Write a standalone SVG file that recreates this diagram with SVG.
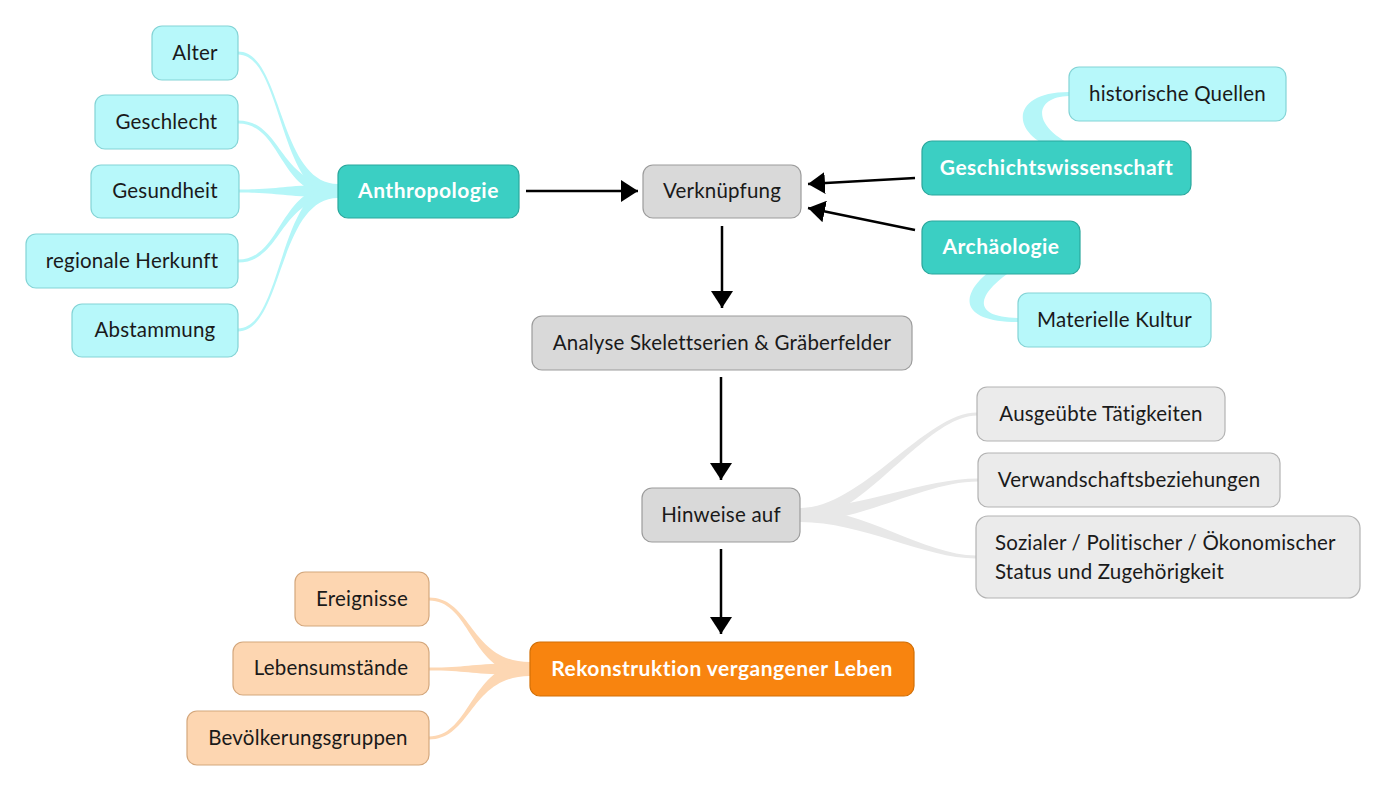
<svg xmlns="http://www.w3.org/2000/svg" width="1387" height="792" viewBox="0 0 1387 792">
<defs>
<style>
text{font-family:Lato,"Open Sans","Liberation Sans",sans-serif;font-size:20.5px;letter-spacing:0.2px;fill:#1a1a1a;text-anchor:middle}
.main text{font-weight:bold;font-size:21px;letter-spacing:0.5px;fill:#ffffff}
.cy{fill:#b7f8fa;stroke:#84d4d6;stroke-width:1.2}
.tl{fill:#3bcfc3;stroke:#2aa89d;stroke-width:1.2}
.gr{fill:#d9d9d9;stroke:#9c9c9c;stroke-width:1.2}
.lg{fill:#ebebeb;stroke:#b3b3b3;stroke-width:1.2}
.po{fill:#fdd6b1;stroke:#d4a77c;stroke-width:1.2}
.or{fill:#f8840f;stroke:#d26f06;stroke-width:1.2}
.bc{fill:#b5f6f8}
.bg{fill:#e8e8e8}
.bo{fill:#fdd7b3}
.arr{stroke:#000;stroke-width:2.5;fill:none;marker-end:url(#ah)}
</style>
<marker id="ah" markerUnits="userSpaceOnUse" markerWidth="18" markerHeight="22" viewBox="0 0 18 22" refX="17" refY="11" orient="auto">
<path d="M0,0 L17,11 L0,22 Z" fill="#000"/>
</marker>
</defs>
<rect width="1387" height="792" fill="#ffffff"/>

<g id="branches">
<path class="bc" d="M238,51.5 C283,51.5 278,184 338,184 L338,198 C278,198 283,54.5 238,54.5 Z"/>
<path class="bc" d="M238,120.5 C283,120.5 278,185 338,185 L338,197 C278,197 283,123.5 238,123.5 Z"/>
<path class="bc" d="M239,189.5 C283,189.5 278,185 338,185 L338,197 C278,197 283,192.5 239,192.5 Z"/>
<path class="bc" d="M238,259.5 C283,259.5 278,185 338,185 L338,197 C278,197 283,262.5 238,262.5 Z"/>
<path class="bc" d="M238,328.5 C283,328.5 278,184 338,184 L338,198 C278,198 283,331.5 238,331.5 Z"/>
<path class="bc" d="M1069,92 C1005,92 1012,140 1062,150 L1086,150 C1034,134 1028,97 1069,96 Z"/>
<path class="bc" d="M994,268 C960,292 956,322 1018,322 L1018,318 C968,317 978,292 1016,268 Z"/>
<path class="bg" d="M800,508 C862,508 925,412.5 977,412.5 L977,415.5 C925,415.5 862,522 800,522 Z"/>
<path class="bg" d="M800,508 C862,508 925,478.5 978,478.5 L978,481.5 C925,481.5 862,522 800,522 Z"/>
<path class="bg" d="M800,508 C862,508 925,555.5 976,555.5 L976,558.5 C925,558.5 862,522 800,522 Z"/>
<path class="bo" d="M429,597.5 C472,597.5 470,662 530,662 L530,676 C470,676 472,600.5 429,600.5 Z"/>
<path class="bo" d="M429,667.5 C472,667.5 470,663 530,663 L530,675 C470,675 472,670.5 429,670.5 Z"/>
<path class="bo" d="M429,736.5 C472,736.5 470,662 530,662 L530,676 C470,676 472,739.5 429,739.5 Z"/>
</g>

<g id="connectors">
<line class="arr" x1="526" y1="191" x2="638" y2="191"/>
<line class="arr" x1="915" y1="178" x2="808" y2="184"/>
<line class="arr" x1="915" y1="230" x2="808" y2="208"/>
<line class="arr" x1="722" y1="226" x2="722" y2="308"/>
<line class="arr" x1="721" y1="377" x2="721" y2="480"/>
<line class="arr" x1="721" y1="549" x2="721" y2="634"/>
</g>

<g id="n-alter"><rect class="cy" x="152" y="26" width="86" height="54" rx="10"/><text x="195" y="60">Alter</text></g>
<g id="n-geschlecht"><rect class="cy" x="95" y="95" width="143" height="54" rx="10"/><text x="166.5" y="129">Geschlecht</text></g>
<g id="n-gesundheit"><rect class="cy" x="91" y="165" width="148" height="53" rx="10"/><text x="165" y="198">Gesundheit</text></g>
<g id="n-herkunft"><rect class="cy" x="26" y="234" width="212" height="54" rx="10"/><text x="132" y="268">regionale Herkunft</text></g>
<g id="n-abstammung"><rect class="cy" x="72" y="304" width="166" height="53" rx="10"/><text x="155" y="337">Abstammung</text></g>

<g id="n-anthropologie" class="main"><rect class="tl" x="338" y="165" width="181" height="53" rx="10"/><text x="428.5" y="198">Anthropologie</text></g>
<g id="n-verknuepfung"><rect class="gr" x="643" y="165" width="158" height="53" rx="10"/><text x="722" y="198">Verknüpfung</text></g>
<g id="n-geschichte" class="main"><rect class="tl" x="922" y="141" width="269" height="54" rx="10"/><text x="1056.5" y="175">Geschichtswissenschaft</text></g>
<g id="n-quellen"><rect class="cy" x="1069" y="67" width="217" height="54" rx="10"/><text x="1177.5" y="101">historische Quellen</text></g>
<g id="n-archaeologie" class="main"><rect class="tl" x="922" y="221" width="158" height="53" rx="10"/><text x="1001" y="254">Archäologie</text></g>
<g id="n-kultur"><rect class="cy" x="1018" y="293" width="193" height="54" rx="10"/><text x="1114.5" y="327">Materielle Kultur</text></g>

<g id="n-analyse"><rect class="gr" x="532" y="316" width="380" height="54" rx="10"/><text x="722" y="350">Analyse Skelettserien &amp; Gräberfelder</text></g>
<g id="n-hinweise"><rect class="gr" x="642" y="488" width="158" height="54" rx="10"/><text x="721" y="522">Hinweise auf</text></g>

<g id="n-taetigkeiten"><rect class="lg" x="977" y="387" width="248" height="54" rx="10"/><text x="1101" y="421">Ausgeübte Tätigkeiten</text></g>
<g id="n-verwandschaft"><rect class="lg" x="978" y="453" width="302" height="54" rx="10"/><text x="1129" y="487">Verwandschaftsbeziehungen</text></g>
<g id="n-status"><rect class="lg" x="976" y="516" width="384" height="82" rx="12"/><text x="995" y="550" style="text-anchor:start">Sozialer / Politischer / Ökonomischer</text><text x="995" y="579" style="text-anchor:start">Status und Zugehörigkeit</text></g>

<g id="n-rekonstruktion" class="main"><rect class="or" x="530" y="642" width="384" height="54" rx="10"/><text x="722" y="676">Rekonstruktion vergangener Leben</text></g>
<g id="n-ereignisse"><rect class="po" x="295" y="572" width="134" height="54" rx="10"/><text x="362" y="606">Ereignisse</text></g>
<g id="n-lebensumstaende"><rect class="po" x="233" y="642" width="196" height="53" rx="10"/><text x="331" y="675">Lebensumstände</text></g>
<g id="n-bevoelkerung"><rect class="po" x="187" y="711" width="242" height="54" rx="10"/><text x="308" y="745">Bevölkerungsgruppen</text></g>
</svg>
